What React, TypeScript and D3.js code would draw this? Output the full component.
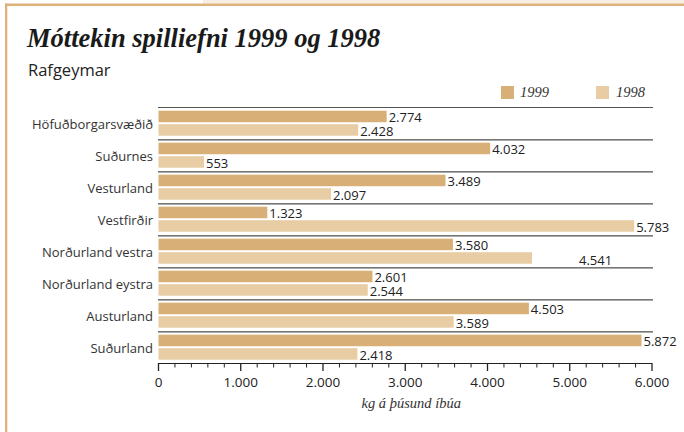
import React from "react";
import * as d3 from "d3";

const categories = [
  "Höfuðborgarsvæðið",
  "Suðurnes",
  "Vesturland",
  "Vestfirðir",
  "Norðurland vestra",
  "Norðurland eystra",
  "Austurland",
  "Suðurland",
];
const values1999 = [2774, 4032, 3489, 1323, 3580, 2601, 4503, 5872];
const values1998 = [2428, 553, 2097, 5783, 4541, 2544, 3589, 2418];
const seriesNames = ["1999", "1998"];
const majorTicks = [0, 1000, 2000, 3000, 4000, 5000, 6000];
const title = "Móttekin spilliefni 1999 og 1998";
const subtitle = "Rafgeymar";
const axisTitle = "kg á þúsund íbúa";

const W = 684;
const H = 432;
const C1999 = "#d9af78";
const C1998 = "#e8cca4";
const BORDER = "#deb27a";

const fmt = (v: number) => {
  const s = String(v);
  return s.length > 3 ? s.slice(0, s.length - 3) + "." + s.slice(-3) : s;
};

// special label shift in the source for one label (1998 series, index 4)
const labelShift1998 = [0, 0, 0, 0, 45, 0, 0, 0];

export default function App() {
  const x = d3.scaleLinear().domain([0, 6000]).range([158.5, 652]);
  const y = d3.scaleBand<string>().domain(categories).range([107, 363]).padding(0);
  const bw = y.bandwidth();
  const minorTicks = d3.range(0, 6001, 200);
  const sans = "'Open Sans', 'Noto Sans', sans-serif";
  const serif = "'Liberation Serif', 'DejaVu Serif', serif";
  const barH = bw * 0.36;

  return (
    <svg
      width={W}
      height={H}
      style={{ position: "absolute", left: 0, top: 0, background: "#fff" }}
    >
      <rect x={203} y={0} width={W - 203} height={3.5} fill="#f8efe3" />
      <rect x={5} y={3.5} width={W - 5} height={2.5} fill={BORDER} />
      <rect x={5} y={3.5} width={2.3} height={H} fill={BORDER} />

      <text
        x={27}
        y={46.5}
        fontFamily={serif}
        fontStyle="italic"
        fontWeight="bold"
        fontSize={26.5}
        fill="#1a1a1a"
      >
        {title}
      </text>
      <text x={28} y={76} fontFamily={sans} fontSize={16.5} fill="#222">
        {subtitle}
      </text>

      {/* legend */}
      {seriesNames.map((s, i) => (
        <g key={s}>
          <rect
            x={501 + i * 95}
            y={86}
            width={13}
            height={13}
            fill={i === 0 ? C1999 : C1998}
          />
          <text
            x={520 + i * 96}
            y={97}
            fontFamily={serif}
            fontStyle="italic"
            fontSize={14.5}
            fill="#333"
          >
            {s}
          </text>
        </g>
      ))}

      {/* separators */}
      {categories.map((c, i) => (
        <g key={"sep" + c}>
          <line
            x1={158}
            x2={653}
            y1={y(c)! + 0.5}
            y2={y(c)! + 0.5}
            stroke={i === 0 ? "#555" : "#777"}
            strokeWidth={1}
          />
          {i > 0 && (
            <line
              x1={158}
              x2={653}
              y1={y(c)! + 1.5}
              y2={y(c)! + 1.5}
              stroke="#aaa"
              strokeWidth={1}
            />
          )}
        </g>
      ))}

      {/* bars */}
      {categories.map((c, i) => {
        const top = y(c)!;
        const y1 = top + 3.7;
        const y2 = top + 17.2;
        return (
          <g key={"bar" + c}>
            <rect x={x(0)} y={y1} width={x(values1999[i]) - x(0)} height={barH} fill={C1999} />
            <rect x={x(0)} y={y2} width={x(values1998[i]) - x(0)} height={barH} fill={C1998} />
            <text
              x={x(values1999[i]) + 2}
              y={y1 + barH}
              fontFamily={sans}
              fontSize={13}
              fill="#222"
            >
              {fmt(values1999[i])}
            </text>
            <text
              x={x(values1998[i]) + 2 + labelShift1998[i]}
              y={y2 + barH + 0.5 + (labelShift1998[i] ? 1 : 0)}
              fontFamily={sans}
              fontSize={13}
              fill="#222"
            >
              {fmt(values1998[i])}
            </text>
            <text
              x={153}
              y={top + bw / 2 + 6}
              textAnchor="end"
              fontFamily={sans}
              fontSize={13}
              fill="#333"
            >
              {c}
            </text>
          </g>
        );
      })}

      {/* axis */}
      <line x1={x(0)} x2={x(6000)} y1={363.5} y2={363.5} stroke="#222" strokeWidth={1} />
      {minorTicks.map((t) => (
        <line
          key={"mt" + t}
          x1={x(t)}
          x2={x(t)}
          y1={363}
          y2={t % 1000 === 0 ? 371 : 367.5}
          stroke="#222"
          strokeWidth={t % 1000 === 0 ? 1.3 : 1}
        />
      ))}
      {majorTicks.map((t) => (
        <text
          key={"tl" + t}
          x={x(t)}
          y={386.5}
          textAnchor="middle"
          fontFamily={sans}
          fontSize={13.5}
          fill="#222"
        >
          {fmt(t)}
        </text>
      ))}
      <text
        x={(x(0) + x(6000)) / 2 + 6}
        y={408}
        textAnchor="middle"
        fontFamily={serif}
        fontStyle="italic"
        fontSize={14.5}
        fill="#333"
      >
        {axisTitle}
      </text>
    </svg>
  );
}
